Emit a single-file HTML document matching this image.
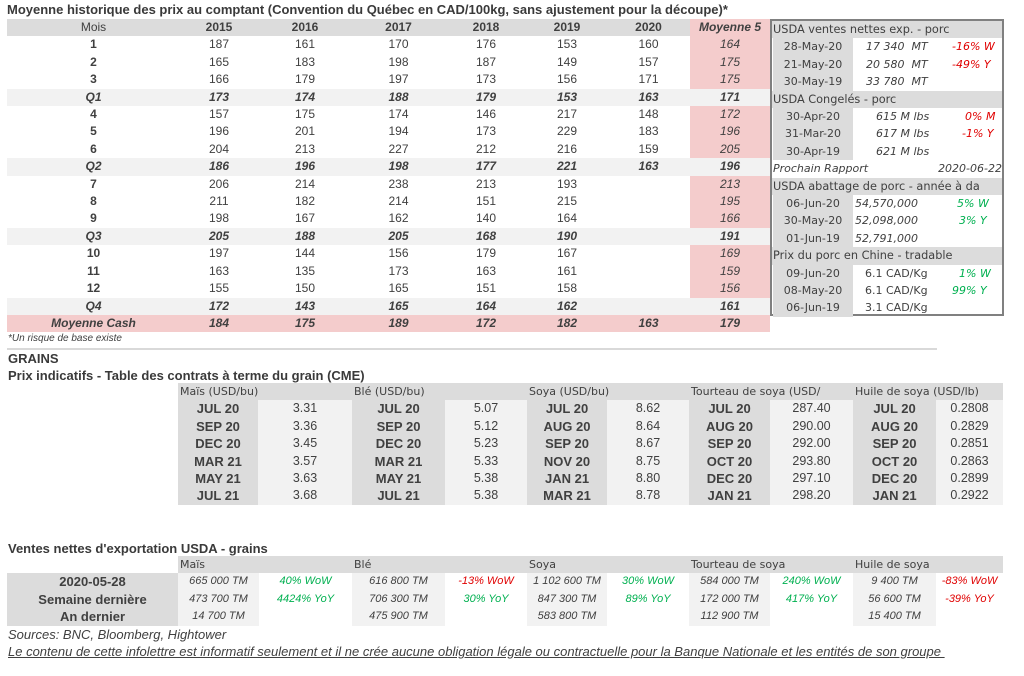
<!DOCTYPE html>
<html><head><meta charset="utf-8">
<style>
*{margin:0;padding:0;box-sizing:border-box}
body{width:1024px;height:676px;background:#fff;position:relative;overflow:hidden;font-family:"Liberation Sans",sans-serif;color:#404040;font-size:12px}
.a{position:absolute;white-space:nowrap}
.t{font-weight:bold;font-size:13px;color:#3a3a3a}
table{border-collapse:collapse;table-layout:fixed;position:absolute}
td{padding:0;text-align:center;height:17.4px;line-height:17.4px;overflow:hidden;white-space:nowrap}
.h td{background:#dcdcdc;font-weight:bold}
.h td.m{font-weight:normal}
.q td{background:#f2f2f2;font-weight:bold;font-style:italic}
.p{background:#f4cccc;font-style:italic}
.q td.p{background:#f2f2f2}
.mc td{background:#f4cccc;font-weight:bold;font-style:italic}
.box{position:absolute;left:770px;top:19px;width:234px;height:297px;border:2px solid #808080;font-family:"DejaVu Sans",sans-serif;font-size:11px;color:#404040}
.r{position:absolute;left:0;width:230px;height:17.4px;line-height:17.4px}
.rh{background:#dcdcdc;padding-left:1px;font-size:11.3px}
.d{position:absolute;left:1px;width:80px;height:17.4px;background:#dcdcdc;text-align:center}
.v{position:absolute;font-style:italic}
.red{color:#e00000}.grn{color:#00b050}
.g td{font-size:12.5px}
table .gh td{background:#dcdcdc;text-align:left;padding-left:2px;font-family:"DejaVu Sans",sans-serif;font-size:11px;font-style:normal}
table td.gl{background:#dcdcdc;font-weight:bold;font-size:13px;font-style:normal}
.gv{background:#f2f2f2;font-size:13px}
.e td{font-style:italic;font-size:11px}
</style></head><body>
<div class="a t" style="left:7px;top:2px">Moyenne historique des prix au comptant (Convention du Québec en CAD/100kg, sans ajustement pour la découpe)*</div>
<table style="left:7px;top:19px;width:763px">
<colgroup><col style="width:173px"><col style="width:78px"><col style="width:94px"><col style="width:93px"><col style="width:82px"><col style="width:80px"><col style="width:83px"><col style="width:80px"></colgroup>
<tr class="h"><td class="m">Mois</td><td>2015</td><td>2016</td><td>2017</td><td>2018</td><td>2019</td><td>2020</td><td style="background:#f4cccc;font-style:italic">Moyenne 5</td></tr>
<tr><td><b>1</b></td><td>187</td><td>161</td><td>170</td><td>176</td><td>153</td><td>160</td><td class="p">164</td></tr>
<tr><td><b>2</b></td><td>165</td><td>183</td><td>198</td><td>187</td><td>149</td><td>157</td><td class="p">175</td></tr>
<tr><td><b>3</b></td><td>166</td><td>179</td><td>197</td><td>173</td><td>156</td><td>171</td><td class="p">175</td></tr>
<tr class="q"><td>Q1</td><td>173</td><td>174</td><td>188</td><td>179</td><td>153</td><td>163</td><td class="p">171</td></tr>
<tr><td><b>4</b></td><td>157</td><td>175</td><td>174</td><td>146</td><td>217</td><td>148</td><td class="p">172</td></tr>
<tr><td><b>5</b></td><td>196</td><td>201</td><td>194</td><td>173</td><td>229</td><td>183</td><td class="p">196</td></tr>
<tr><td><b>6</b></td><td>204</td><td>213</td><td>227</td><td>212</td><td>216</td><td>159</td><td class="p">205</td></tr>
<tr class="q"><td>Q2</td><td>186</td><td>196</td><td>198</td><td>177</td><td>221</td><td>163</td><td class="p">196</td></tr>
<tr><td><b>7</b></td><td>206</td><td>214</td><td>238</td><td>213</td><td>193</td><td></td><td class="p">213</td></tr>
<tr><td><b>8</b></td><td>211</td><td>182</td><td>214</td><td>151</td><td>215</td><td></td><td class="p">195</td></tr>
<tr><td><b>9</b></td><td>198</td><td>167</td><td>162</td><td>140</td><td>164</td><td></td><td class="p">166</td></tr>
<tr class="q"><td>Q3</td><td>205</td><td>188</td><td>205</td><td>168</td><td>190</td><td></td><td class="p">191</td></tr>
<tr><td><b>10</b></td><td>197</td><td>144</td><td>156</td><td>179</td><td>167</td><td></td><td class="p">169</td></tr>
<tr><td><b>11</b></td><td>163</td><td>135</td><td>173</td><td>163</td><td>161</td><td></td><td class="p">159</td></tr>
<tr><td><b>12</b></td><td>155</td><td>150</td><td>165</td><td>151</td><td>158</td><td></td><td class="p">156</td></tr>
<tr class="q"><td>Q4</td><td>172</td><td>143</td><td>165</td><td>164</td><td>162</td><td></td><td class="p">161</td></tr>
<tr class="mc"><td>Moyenne Cash</td><td>184</td><td>175</td><td>189</td><td>172</td><td>182</td><td>163</td><td>179</td></tr>
</table>

<div class="box">
<div class="r rh" style="top:0">USDA ventes nettes exp. - porc</div>
<div class="r" style="top:17.4px"><div class="d">28-May-20</div><span class="v" style="left:94px">17 340&nbsp; MT</span><span class="v red" style="left:180px">-16% W</span></div>
<div class="r" style="top:34.8px"><div class="d">21-May-20</div><span class="v" style="left:94px">20 580&nbsp; MT</span><span class="v red" style="left:180px">-49% Y</span></div>
<div class="r" style="top:52.2px"><div class="d">30-May-19</div><span class="v" style="left:94px">33 780&nbsp; MT</span></div>
<div class="r rh" style="top:69.6px">USDA Congelés - porc</div>
<div class="r" style="top:87px"><div class="d">30-Apr-20</div><span class="v" style="left:104px">615 M lbs</span><span class="v red" style="left:193px">0% M</span></div>
<div class="r" style="top:104.4px"><div class="d">31-Mar-20</div><span class="v" style="left:104px">617 M lbs</span><span class="v red" style="left:190px">-1% Y</span></div>
<div class="r" style="top:121.8px"><div class="d">30-Apr-19</div><span class="v" style="left:104px">621 M lbs</span></div>
<div class="r" style="top:139.2px"><span class="v" style="left:1px">Prochain Rapport</span><span class="v" style="right:0">2020-06-22</span></div>
<div class="r rh" style="top:156.6px">USDA abattage de porc - année à da</div>
<div class="r" style="top:174px"><div class="d">06-Jun-20</div><span class="v" style="left:83px">54,570,000</span><span class="v grn" style="left:185px">5% W</span></div>
<div class="r" style="top:191.4px"><div class="d">30-May-20</div><span class="v" style="left:83px">52,098,000</span><span class="v grn" style="left:187px">3% Y</span></div>
<div class="r" style="top:208.8px"><div class="d">01-Jun-19</div><span class="v" style="left:83px">52,791,000</span></div>
<div class="r rh" style="top:226.2px">Prix du porc en Chine - tradable</div>
<div class="r" style="top:243.6px"><div class="d">09-Jun-20</div><span style="position:absolute;left:93px">6.1 CAD/Kg</span><span class="v grn" style="left:187px">1% W</span></div>
<div class="r" style="top:261px"><div class="d">08-May-20</div><span style="position:absolute;left:93px">6.1 CAD/Kg</span><span class="v grn" style="left:180px">99% Y</span></div>
<div class="r" style="top:278.4px"><div class="d">06-Jun-19</div><span style="position:absolute;left:93px">3.1 CAD/Kg</span></div>
</div>

<div class="a" style="left:8px;top:333px;font-size:10px;font-style:italic">*Un risque de base existe</div>
<div class="a" style="left:7px;top:348px;width:930px;height:2px;background:#d9d9d9"></div>
<div class="a t" style="left:8px;top:351px">GRAINS</div>
<div class="a t" style="left:8px;top:368px">Prix indicatifs - Table des contrats à terme du grain (CME)</div>

<table class="g" style="left:178px;top:383px;width:825px">
<colgroup><col style="width:80px"><col style="width:94px"><col style="width:93px"><col style="width:82px"><col style="width:80px"><col style="width:82px"><col style="width:81px"><col style="width:83px"><col style="width:83px"><col style="width:67px"></colgroup>
<tr class="gh"><td colspan="2">Maïs (USD/bu)</td><td colspan="2">Blé (USD/bu)</td><td colspan="2">Soya (USD/bu)</td><td colspan="2">Tourteau de soya (USD/</td><td colspan="2">Huile de soya (USD/lb)</td></tr>
<tr><td class="gl">JUL 20</td><td class="gv">3.31</td><td class="gl">JUL 20</td><td class="gv">5.07</td><td class="gl">JUL 20</td><td class="gv">8.62</td><td class="gl">JUL 20</td><td class="gv">287.40</td><td class="gl">JUL 20</td><td class="gv">0.2808</td></tr>
<tr><td class="gl">SEP 20</td><td class="gv">3.36</td><td class="gl">SEP 20</td><td class="gv">5.12</td><td class="gl">AUG 20</td><td class="gv">8.64</td><td class="gl">AUG 20</td><td class="gv">290.00</td><td class="gl">AUG 20</td><td class="gv">0.2829</td></tr>
<tr><td class="gl">DEC 20</td><td class="gv">3.45</td><td class="gl">DEC 20</td><td class="gv">5.23</td><td class="gl">SEP 20</td><td class="gv">8.67</td><td class="gl">SEP 20</td><td class="gv">292.00</td><td class="gl">SEP 20</td><td class="gv">0.2851</td></tr>
<tr><td class="gl">MAR 21</td><td class="gv">3.57</td><td class="gl">MAR 21</td><td class="gv">5.33</td><td class="gl">NOV 20</td><td class="gv">8.75</td><td class="gl">OCT 20</td><td class="gv">293.80</td><td class="gl">OCT 20</td><td class="gv">0.2863</td></tr>
<tr><td class="gl">MAY 21</td><td class="gv">3.63</td><td class="gl">MAY 21</td><td class="gv">5.38</td><td class="gl">JAN 21</td><td class="gv">8.80</td><td class="gl">DEC 20</td><td class="gv">297.10</td><td class="gl">DEC 20</td><td class="gv">0.2899</td></tr>
<tr><td class="gl">JUL 21</td><td class="gv">3.68</td><td class="gl">JUL 21</td><td class="gv">5.38</td><td class="gl">MAR 21</td><td class="gv">8.78</td><td class="gl">JAN 21</td><td class="gv">298.20</td><td class="gl">JAN 21</td><td class="gv">0.2922</td></tr>
</table>

<div class="a t" style="left:8px;top:541px">Ventes nettes d'exportation USDA - grains</div>
<table class="e" style="left:7px;top:556px;width:996px">
<colgroup><col style="width:171px"><col style="width:81px"><col style="width:93px"><col style="width:93px"><col style="width:82px"><col style="width:80px"><col style="width:82px"><col style="width:81px"><col style="width:83px"><col style="width:83px"><col style="width:67px"></colgroup>
<tr class="gh"><td style="background:#fff"></td><td colspan="2">Maïs</td><td colspan="2">Blé</td><td colspan="2">Soya</td><td colspan="2">Tourteau de soya</td><td colspan="2">Huile de soya</td></tr>
<tr><td class="gl">2020-05-28</td><td class="gv" style="font-size:11px">665 000 TM</td><td class="grn">40% WoW</td><td class="gv" style="font-size:11px">616 800 TM</td><td class="red">-13% WoW</td><td class="gv" style="font-size:11px">1 102 600 TM</td><td class="grn">30% WoW</td><td class="gv" style="font-size:11px">584 000 TM</td><td class="grn">240% WoW</td><td class="gv" style="font-size:11px">9 400 TM</td><td class="red">-83% WoW</td></tr>
<tr><td class="gl">Semaine dernière</td><td class="gv" style="font-size:11px">473 700 TM</td><td class="grn">4424% YoY</td><td class="gv" style="font-size:11px">706 300 TM</td><td class="grn">30% YoY</td><td class="gv" style="font-size:11px">847 300 TM</td><td class="grn">89% YoY</td><td class="gv" style="font-size:11px">172 000 TM</td><td class="grn">417% YoY</td><td class="gv" style="font-size:11px">56 600 TM</td><td class="red">-39% YoY</td></tr>
<tr><td class="gl">An dernier</td><td class="gv" style="font-size:11px">14 700 TM</td><td></td><td class="gv" style="font-size:11px">475 900 TM</td><td></td><td class="gv" style="font-size:11px">583 800 TM</td><td></td><td class="gv" style="font-size:11px">112 900 TM</td><td></td><td class="gv" style="font-size:11px">15 400 TM</td><td></td></tr>
</table>
<div class="a" style="left:8px;top:627px;font-size:13px;font-style:italic">Sources: BNC, Bloomberg, Hightower</div>
<div class="a" style="left:8px;top:644px;font-size:13px;font-style:italic;text-decoration:underline">Le contenu de cette infolettre est informatif seulement et il ne crée aucune obligation légale ou contractuelle pour la Banque Nationale et les entités de son groupe&nbsp;</div>
</body></html>
